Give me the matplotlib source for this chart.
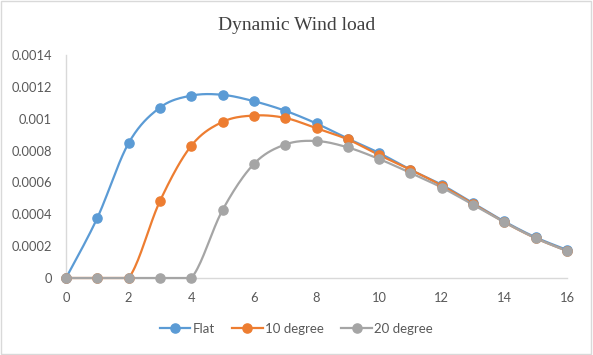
import numpy as np
import matplotlib
matplotlib.use("Agg")
import matplotlib.pyplot as plt
from matplotlib.patches import Rectangle

# values
x_vals = list(range(17))
flat = [0, 0.000377, 0.000847, 0.00107, 0.001145, 0.00115, 0.00111, 0.00105,
        0.00097, 0.000875, 0.000785, 0.00068, 0.000585, 0.00047, 0.000355,
        0.000255, 0.000176]
deg10 = [0, 0, 0, 0.000483, 0.00083, 0.00098, 0.00102, 0.001005, 0.00094,
         0.00087, 0.000772, 0.00068, 0.00058, 0.000465, 0.00035, 0.00025,
         0.00017]
deg20 = [0, 0, 0, 0, 0, 0.000427, 0.000716, 0.000838, 0.00086, 0.00082,
         0.000747, 0.00066, 0.000568, 0.00046, 0.00035, 0.00025, 0.00017]

series = [("Flat", flat, "#5B9BD5"),
          ("10 degree", deg10, "#ED7D31"),
          ("20 degree", deg20, "#A5A5A5")]


def _smooth(xs, ys, steps=20):
    # excel-style smoothed line: cubic bezier with catmull-rom control points
    xs = np.asarray(xs, float)
    ys = np.asarray(ys, float)
    n = len(xs)
    out_x, out_y = [xs[0]], [ys[0]]
    t = np.linspace(0, 1, steps + 1)[1:]
    for i in range(n - 1):
        p0 = np.array([xs[max(i - 1, 0)], ys[max(i - 1, 0)]])
        p1 = np.array([xs[i], ys[i]])
        p2 = np.array([xs[i + 1], ys[i + 1]])
        p3 = np.array([xs[min(i + 2, n - 1)], ys[min(i + 2, n - 1)]])
        c1 = p1 + (p2 - p0) / 6
        c2 = p2 - (p3 - p1) / 6
        for tt in t:
            pt = ((1 - tt) ** 3 * p1 + 3 * (1 - tt) ** 2 * tt * c1
                  + 3 * (1 - tt) * tt ** 2 * c2 + tt ** 3 * p2)
            out_x.append(pt[0])
            out_y.append(pt[1])
    # the chart floor is 0, so keep the curve from dipping under it
    return out_x, np.maximum(out_y, 0)


plt.rcParams["font.family"] = ["Lato", "DejaVu Sans"]

fig = plt.figure(figsize=(5.93, 3.55), dpi=100)
ax = fig.add_axes([66 / 593, 1 - 278 / 355, (567 - 66) / 593, (278 - 55) / 355])

for label, vals, color in series:
    sx, sy = _smooth(x_vals, vals)
    ax.plot(sx, sy, color=color, linewidth=1.6, solid_capstyle="round",
            zorder=2, clip_on=False)
    ax.plot(x_vals, vals, linestyle="none", marker="o", markersize=6.6,
            color=color, zorder=3, clip_on=False)

# legend handles: line with marker
handles = [ax.plot([], [], color=c, linewidth=1.6, marker="o", markersize=6.6)[0]
           for _, _, c in series]
fig.legend(handles, [s[0] for s in series], loc="center",
           bbox_to_anchor=(0.5, 1 - 329 / 355), ncol=3, frameon=False,
           fontsize=9.5, handlelength=2.3, handletextpad=0.2, columnspacing=1.3,
           labelcolor="#595959")

ax.set_xlim(0, 16)
ax.set_ylim(0, 0.0014)
ax.set_xticks(range(0, 17, 2))
ax.set_yticks(np.arange(0, 0.00141, 0.0002))
ax.set_yticklabels(["0", "0.0002", "0.0004", "0.0006", "0.0008", "0.001",
                    "0.0012", "0.0014"])
ax.tick_params(length=0, labelsize=9.3, labelcolor="#595959", pad=10)
for side in ("top", "right"):
    ax.spines[side].set_visible(False)
for side in ("left", "bottom"):
    ax.spines[side].set_color("#D9D9D9")
    ax.spines[side].set_linewidth(1.0)
    ax.spines[side].set_zorder(1)
ax.set_facecolor("none")

fig.text(0.5, 1 - 25 / 355, "Dynamic Wind load", ha="center", va="center",
         fontsize=14, color="#404040", family=["Liberation Serif", "DejaVu Serif"])

# chart border
fig.patches.append(Rectangle((0.002, 0.004), 0.994, 0.992, transform=fig.transFigure,
                             fill=False, edgecolor="#D9D9D9", linewidth=1.0))

fig.savefig("out.png", dpi=100)
